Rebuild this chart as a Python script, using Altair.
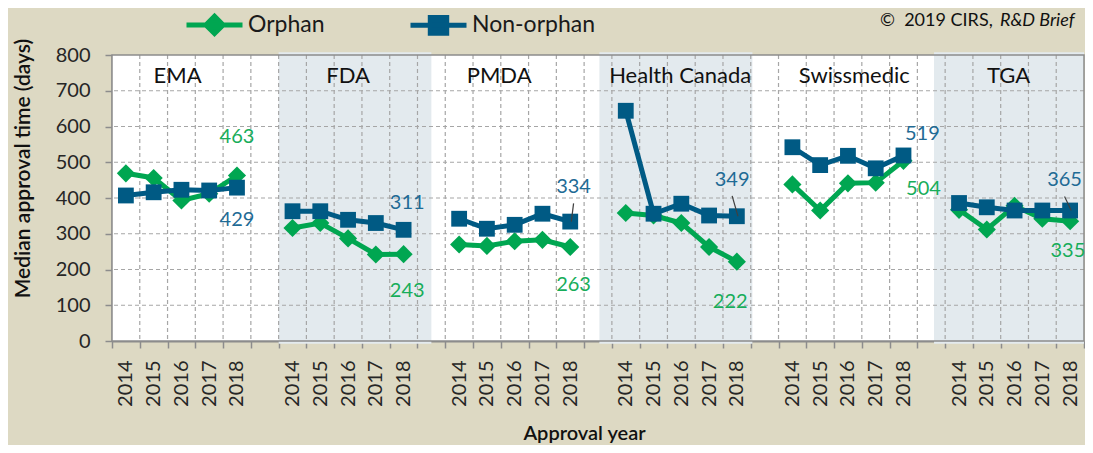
import altair as alt
import pandas as pd

# ---------------- data ----------------
groups = ["EMA", "FDA", "PMDA", "Health Canada", "Swissmedic", "TGA"]
years = [2014, 2015, 2016, 2017, 2018]
series_names = ["Orphan", "Non-orphan"]

orphan = [
    [469, 456, 393, 412, 463],   # EMA
    [316, 330, 287, 242, 243],   # FDA
    [270, 266, 279, 283, 263],   # PMDA
    [358, 351, 330, 263, 222],   # Health Canada
    [438, 365, 441, 443, 504],   # Swissmedic
    [367, 312, 378, 342, 335],   # TGA
]
non_orphan = [
    [407, 416, 423, 421, 429],
    [363, 363, 339, 330, 311],
    [342, 314, 325, 356, 334],
    [644, 356, 384, 351, 349],
    [542, 492, 518, 483, 519],
    [386, 374, 365, 365, 365],
]
y_ticks = [0, 100, 200, 300, 400, 500, 600, 700, 800]

# ---------------- layout helpers (not data) ----------------
SLOT = 6                      # 5 years + 1 empty slot per agency
N_BANDS = 35
PLOT_W, PLOT_H = 972, 286
BW = PLOT_W / N_BANDS

# label offsets for 2018 value labels: (dx in band units, dy in days)
orphan_lab = [(0.0, 108), (0.13, -103), (0.12, -105), (-0.24, -114), (0.72, -78), (-0.08, -83)]
non_lab = [(0.0, -90), (0.13, 76), (0.12, 96), (-0.17, 102), (0.68, 60), (-0.2, 84)]
leader_groups = [2, 3, 5]
panel_label_x = [1.86, 8.0, 13.44, 19.96, 26.23, 31.78]
panel_label_y = 740
shade_spans = [(5.5, 11.0), (17.05, 22.56), (29.1, 34.5)]

GREEN = "#00a651"
BLUE = "#005a84"
GREEN_TXT = "#17ad5a"
BLUE_TXT = "#1f6b95"
GRID = "#a6a6a6"
AXISC = "#8c8c8c"
FONT = "Lato"

rows = []
for g, grp in enumerate(groups):
    for j, yr in enumerate(years):
        idx = g * SLOT + j
        rows.append(dict(idx=idx, group=grp, year=yr, series="Orphan", value=orphan[g][j]))
        rows.append(dict(idx=idx, group=grp, year=yr, series="Non-orphan", value=non_orphan[g][j]))
df = pd.DataFrame(rows)

lab_rows = []
lead_rows = []
for g, grp in enumerate(groups):
    idx = g * SLOT + 4
    v = orphan[g][4]
    lab_rows.append(dict(x=idx + orphan_lab[g][0], y=v + orphan_lab[g][1], t=str(v), series="Orphan"))
    v2 = non_orphan[g][4]
    lab_rows.append(dict(x=idx + non_lab[g][0], y=v2 + non_lab[g][1], t=str(v2), series="Non-orphan"))
    if g in leader_groups:
        lead_rows.append(dict(x=idx + non_lab[g][0], y=v2 + non_lab[g][1] - 45, x2=idx + 0.04, y2=v2))
labs = pd.DataFrame(lab_rows)
leads = pd.DataFrame(lead_rows)

panels = pd.DataFrame(dict(name=groups, x=panel_label_x, y=[panel_label_y] * len(groups)))
shade = pd.DataFrame(dict(x0=[s[0] for s in shade_spans], x1=[s[1] for s in shade_spans],
                          y0=[-8] * 3, y1=[808] * 3))
frame = pd.DataFrame(dict(x0=[-0.5], x1=[N_BANDS - 0.5], y0=[0], y1=[800]))
vgrid = pd.DataFrame(dict(gx=[i - 0.5 for i in range(1, N_BANDS)]))
hgrid = pd.DataFrame(dict(gy=y_ticks[1:-1]))

# ---------------- scales / axes ----------------
xscale = alt.Scale(domain=[-0.5, N_BANDS - 0.5], nice=False, zero=False)
yscale = alt.Scale(domain=[0, 800], nice=False)

xaxis = alt.Axis(
    values=[i - 0.5 for i in range(N_BANDS + 1)],
    labelExpr="(datum.value + 0.5) % 6 == 5 ? '' : '' + (2014 + (datum.value + 0.5) % 6)",
    labelAngle=-90, labelAlign="right", labelBaseline="middle",
    labelOffset=BW / 2, labelPadding=12, labelFontSize=20, labelFont=FONT, labelColor="#262626",
    labelOverlap=False, labelFlush=False, labelBound=False,
    tickSize=7, tickColor=AXISC, tickWidth=1.5,
    grid=False,
    domainColor=AXISC, domainWidth=2,
    title="Approval year", titleFont=FONT, titleFontSize=20, titleFontWeight=600, titleColor="#111111",
    titleX=472, titleY=92, titleAlign="center", titleBaseline="middle", titleAnchor="middle",
)
yaxis = alt.Axis(
    values=y_ticks,
    labelPadding=15, labelFontSize=20, labelFont=FONT, labelColor="#262626",
    tickSize=7, tickColor=AXISC, tickWidth=1.5,
    grid=False,
    domainColor=AXISC, domainWidth=2,
    title="Median approval time (days)", titleFont=FONT, titleFontSize=21, titleFontWeight=600,
    titleColor="#111111", titleAngle=-90, titleX=-89, titleY=113, titleAlign="center",
    titleBaseline="middle",
)

def X(f):
    return alt.X(f, type="quantitative", scale=xscale, axis=xaxis)

def Y(f):
    return alt.Y(f, type="quantitative", scale=yscale, axis=yaxis)

# ---------------- layers ----------------
bg_layer = alt.Chart(frame).mark_rect(color="white").encode(
    x=X("x0"), x2="x1", y=Y("y0"), y2="y1"
)
shade_layer = alt.Chart(shade).mark_rect(color="#e3eaee").encode(
    x=X("x0"), x2="x1", y=Y("y0"), y2="y1"
)
vgrid_layer = alt.Chart(vgrid).mark_rule(color=GRID, strokeWidth=1.2, strokeDash=[4, 3]).encode(
    x=X("gx")
)
hgrid_layer = alt.Chart(hgrid).mark_rule(color=GRID, strokeWidth=1.2, strokeDash=[4, 3]).encode(
    y=Y("gy")
)
border_layer = alt.Chart(frame).mark_rect(filled=False, stroke=AXISC, strokeWidth=1.5).encode(
    x=X("x0"), x2="x1", y=Y("y0"), y2="y1"
)

def series_layers(name, color, shape, size):
    d = df[df.series == name]
    line = alt.Chart(d).mark_line(strokeWidth=5, color=color).encode(
        x=X("idx"), y=Y("value"), detail="group:N",
    )
    pts = alt.Chart(d).mark_point(filled=True, shape=shape, size=size, opacity=1, color=color).encode(
        x=X("idx"), y=Y("value"),
    )
    return [line, pts]

orph_layers = series_layers("Orphan", GREEN, "diamond", 330)
non_layers = series_layers("Non-orphan", BLUE, "square", 250)

lead_layer = alt.Chart(leads).mark_rule(color="#404040", strokeWidth=1.2).encode(
    x=X("x"), y=Y("y"), x2="x2", y2="y2"
)

lab_layers = []
for name, col in zip(series_names, [GREEN_TXT, BLUE_TXT]):
    lab_layers.append(
        alt.Chart(labs[labs.series == name]).mark_text(
            font=FONT, fontSize=20, baseline="middle", align="center", color=col
        ).encode(x=X("x"), y=Y("y"), text="t:N")
    )

panel_layer = alt.Chart(panels).mark_text(font=FONT, fontSize=22, color="#111111",
                                          baseline="middle", align="center").encode(
    x=X("x"), y=Y("y"), text="name:N"
)

diamond_path = "M-1.5,0L1.5,0M0,-0.46L0.46,0L0,0.46L-0.46,0Z"
square_path = "M-1.5,0L1.5,0M-0.44,-0.42L0.44,-0.42L0.44,0.42L-0.44,0.42Z"

leg = alt.Legend(
    title=None, orient="none", legendX=81, legendY=-52, direction="horizontal",
    symbolSize=1394, symbolStrokeWidth=5, symbolOpacity=1,
    labelFont=FONT, labelFontSize=23, labelColor="#1a1a1a", labelOffset=12,
    columnPadding=75, padding=0,
)
legend_layer = alt.Chart(pd.DataFrame(dict(series=series_names))).mark_point(
    filled=True, opacity=0
).encode(
    color=alt.Color("series:N", scale=alt.Scale(domain=series_names, range=[GREEN, BLUE]), legend=leg),
    stroke=alt.Stroke("series:N", scale=alt.Scale(domain=series_names, range=[GREEN, BLUE]), legend=leg),
    shape=alt.Shape("series:N", scale=alt.Scale(domain=series_names, range=[diamond_path, square_path]), legend=leg),
)

copy_df = pd.DataFrame(dict(a=["\u00a9\u00a0\u00a02019 CIRS,"], b=["R&D Brief"]))
copy1 = alt.Chart(copy_df).mark_text(font=FONT, fontSize=18, color="#111111", align="left",
                                     baseline="middle").encode(
    text="a:N", x=alt.value(768), y=alt.value(-34)
)
copy2 = alt.Chart(copy_df).mark_text(font=FONT, fontSize=18, color="#111111", align="left",
                                     baseline="middle", fontStyle="italic").encode(
    text="b:N", x=alt.value(888), y=alt.value(-34)
)

chart = alt.layer(
    bg_layer, shade_layer, vgrid_layer, hgrid_layer, border_layer,
    *orph_layers, *non_layers, lead_layer, *lab_layers, panel_layer, legend_layer, copy1, copy2
).properties(
    width=PLOT_W, height=PLOT_H,
    padding={"left": 104, "top": 47, "right": 1, "bottom": 104},
    autosize=alt.AutoSizeParams(type="none"),
    background="#ddd9c3",
).configure_view(
    stroke=None
)

chart.save("out.html", embed_options={"renderer": "svg", "actions": False})
